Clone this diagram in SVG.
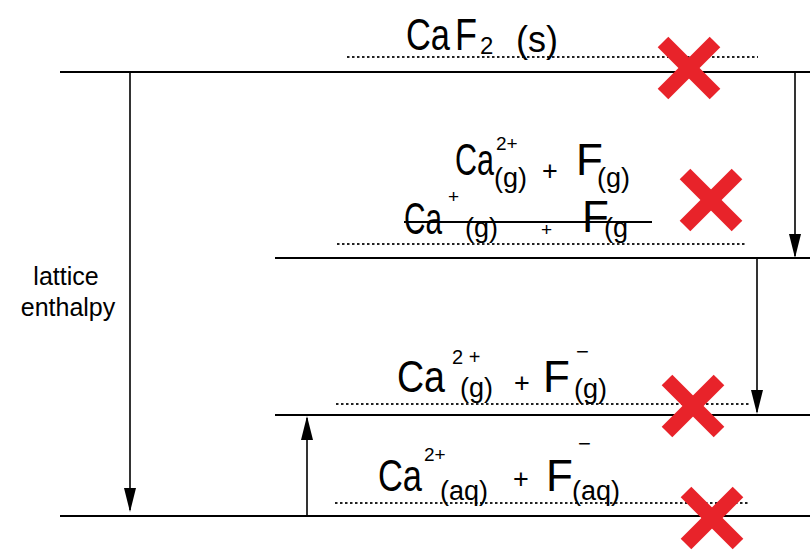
<svg xmlns="http://www.w3.org/2000/svg" width="810" height="550" viewBox="0 0 810 550">
<style>
.lvl{stroke:#000;stroke-width:2;fill:none}
.dot{stroke:#222;stroke-width:2.2;stroke-dasharray:2.5 2.5;fill:none}
.arr{stroke:#000;stroke-width:1.6;fill:none}
.hw{font-family:"Liberation Sans",Arial,sans-serif;fill:#000}
.big{font-size:44px}
.sub{font-size:27px}
.sup{font-size:19px}
.lab{font-family:"Liberation Sans",Arial,sans-serif;font-size:25px;fill:#000}
.xm{stroke:#e8232a;stroke-width:15;stroke-linecap:butt}
</style>
<defs>
<g id="redx">
<line class="xm" x1="-26" y1="-26" x2="26" y2="26"/>
<line class="xm" x1="26" y1="-26" x2="-26" y2="26"/>
</g>
</defs>
<rect width="810" height="550" fill="#fff"/>

<g id="levels">
<line class="lvl" x1="60" y1="72" x2="810" y2="72"/>
<line class="lvl" x1="275" y1="258" x2="810" y2="258"/>
<line class="lvl" x1="275" y1="415" x2="810" y2="415"/>
<line class="lvl" x1="60" y1="516" x2="810" y2="516"/>
<line class="dot" x1="347" y1="57" x2="758" y2="57"/>
<line class="dot" x1="337" y1="244" x2="747" y2="244"/>
<line class="dot" x1="336" y1="404" x2="749" y2="404"/>
<line class="dot" x1="335" y1="503" x2="748" y2="503"/>
</g>

<g id="connectors">
<line class="arr" x1="130" y1="72" x2="130" y2="510"/>
<path d="M124,488 L136,488 L130,512 Z" fill="#000"/>
<line class="arr" x1="795" y1="72" x2="795" y2="256"/>
<path d="M789,234 L801,234 L795,258 Z" fill="#000"/>
<line class="arr" x1="757" y1="258" x2="757" y2="412"/>
<path d="M751,390 L763,390 L757,414 Z" fill="#000"/>
<line class="arr" x1="307" y1="516" x2="307" y2="418"/>
<path d="M301,440 L313,440 L307,416 Z" fill="#000"/>
</g>

<g id="label-lattice">
<text class="lab" x="66" y="285" text-anchor="middle">lattice</text>
<text class="lab" x="68" y="316" text-anchor="middle">enthalpy</text>
</g>

<g id="node-caf2">
<text class="hw big" x="406" y="50"><tspan x="406" y="50" textLength="44" lengthAdjust="spacingAndGlyphs">Ca</tspan><tspan x="455" y="50" textLength="22" lengthAdjust="spacingAndGlyphs">F</tspan><tspan x="480" y="54" font-size="24">2</tspan><tspan x="516" y="52" font-size="36">(s)</tspan></text>
</g>

<g id="node-ca2-f">
<text class="hw big" x="455" y="175"><tspan x="455" y="175" textLength="39" lengthAdjust="spacingAndGlyphs">Ca</tspan><tspan class="sup" x="496" y="150">2+</tspan><tspan class="sub" x="494" y="187">(g)</tspan><tspan class="sub" x="542" y="180">+</tspan><tspan x="576" y="175">F</tspan><tspan class="sub" x="597" y="187">(g)</tspan></text>
</g>

<g id="node-struck">
<text class="hw big" x="404" y="234"><tspan x="404" y="234" textLength="38" lengthAdjust="spacingAndGlyphs">Ca</tspan><tspan class="sup" x="448" y="203">+</tspan><tspan class="sub" x="465" y="237">(g)</tspan><tspan class="sup" x="541" y="236">+</tspan><tspan x="582" y="232">F</tspan><tspan class="sub" x="604" y="237">(g</tspan></text>
<line x1="404" y1="222" x2="652" y2="222" stroke="#000" stroke-width="2.2"/>
</g>

<g id="node-ions-g">
<text class="hw big" x="397" y="392"><tspan x="397" y="392" textLength="48" lengthAdjust="spacingAndGlyphs">Ca</tspan><tspan x="452" y="364" font-size="20">2 +</tspan><tspan class="sub" x="460" y="397">(g)</tspan><tspan class="sub" x="514" y="392">+</tspan><tspan x="543" y="392">F</tspan><tspan x="576" y="359" font-size="22">−</tspan><tspan class="sub" x="574" y="398">(g)</tspan></text>
</g>

<g id="node-ions-aq">
<text class="hw big" x="378" y="491"><tspan x="378" y="491" textLength="44" lengthAdjust="spacingAndGlyphs">Ca</tspan><tspan class="sup" x="424" y="461">2+</tspan><tspan class="sub" x="440" y="500">(aq)</tspan><tspan class="sub" x="513" y="488">+</tspan><tspan x="546" y="491">F</tspan><tspan x="578" y="451" font-size="22">−</tspan><tspan class="sub" x="572" y="500">(aq)</tspan></text>
</g>

<g id="crosses">
<use href="#redx" x="689" y="68"/>
<use href="#redx" x="711" y="200"/>
<use href="#redx" x="693" y="406"/>
<use href="#redx" x="712" y="518"/>
</g>
</svg>
